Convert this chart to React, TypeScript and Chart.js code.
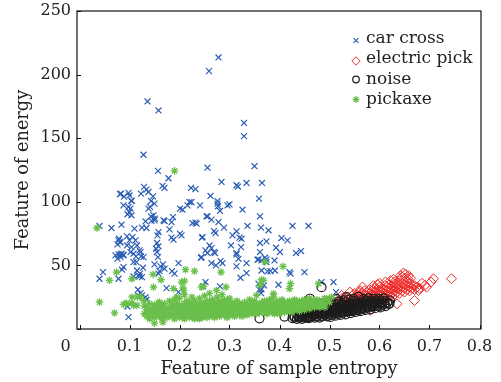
import React, { useEffect, useRef } from 'react';
import { Chart, registerables } from 'chart.js';
import { drawPoint } from 'chart.js/helpers';

Chart.register(...registerables);

const xTicks = [0, 0.1, 0.2, 0.3, 0.4, 0.5, 0.6, 0.7, 0.8];
const yTicks = [0, 50, 100, 150, 200, 250];
const seriesNames = ['car cross', 'electric pick', 'noise', 'pickaxe'];
const xTitle = 'Feature of sample entropy';
const yTitle = 'Feature of energy';

const carCross: number[][] = [
  [0.278,213.5],[0.259,202.7],[0.136,178.9],[0.158,171.8],[0.329,162],[0.329,151.6],[0.128,137],[0.35,128],
  [0.157,124.3],[0.256,126.8],[0.284,115.6],[0.314,113],[0.317,112],[0.334,114.8],[0.365,114.8],[0.178,118.5],
  [0.129,111.7],[0.134,109.6],[0.138,107.7],[0.166,112.5],[0.17,111],[0.223,110.9],[0.232,110],[0.083,106.4],
  [0.123,106.4],[0.147,104.3],[0.262,104.6],[0.104,100.6],[0.098,95.9],[0.1,92],[0.143,100.6],[0.15,98.6],
  [0.22,99.8],[0.216,97.2],[0.206,93.8],[0.143,88.6],[0.15,85.4],[0.132,84.6],[0.17,84.9],[0.187,88],
  [0.232,83.6],[0.254,88.6],[0.04,81],[0.064,79.4],[0.084,82],[0.11,78.9],[0.125,79.7],[0.134,79.4],
  [0.158,76.2],[0.156,73.6],[0.18,78.3],[0.184,71.8],[0.188,70.2],[0.204,73.6],[0.245,71.8],[0.095,72.8],
  [0.1,69.7],[0.078,69.7],[0.082,68.1],[0.112,69.7],[0.115,65.7],[0.104,64.4],[0.095,65.7],[0.155,67.6],
  [0.158,65],[0.153,63.1],[0.12,61.8],[0.102,60.5],[0.082,58.4],[0.088,58.4],[0.252,61.8],
  [0.276,100.6],[0.276,98.6],[0.277,96.5],[0.281,92.8],[0.296,97.2],[0.3,98],[0.326,93.8],[0.359,102.5],
  [0.361,88.6],[0.256,88.6],[0.264,86],[0.278,84.1],[0.289,79.7],[0.336,81],[0.363,79.7],[0.378,77.6],
  [0.426,81],[0.458,81],[0.269,77],[0.272,75.4],[0.306,73.6],[0.314,76.8],[0.32,71.8],[0.324,71],
  [0.303,65.7],[0.323,64.4],[0.361,67.6],[0.374,68.9],[0.404,71.5],[0.416,69.7],[0.393,63.9],[0.401,60.5],
  [0.26,65.7],[0.264,63.6],[0.269,60.5],[0.314,59.7],[0.361,60.5],[0.433,59.7],[0.443,61.3],
  [0.358,54.7],[0.364,53.9],[0.374,54.7],[0.39,53.9],[0.364,46],[0.376,45.3],[0.382,45.5],[0.391,46],
  [0.42,44.7],[0.422,43.5],[0.45,44.7],[0.358,35.6],[0.364,31.1],[0.369,34.3],[0.398,34.8],[0.484,36.9],
  [0.508,36.9],[0.513,29],[0.256,59.7],[0.271,59.7],[0.314,58.7],[0.318,55.2],[0.264,51.8],[0.273,50],
  [0.282,53.4],[0.286,51.8],[0.314,49.2],[0.334,51.8],[0.334,43.9],[0.322,40.3],[0.356,54.5],[0.371,56],
  [0.374,52.6],[0.363,28.2],[0.36,30.9],[0.244,56.5],[0.281,33.5],
  [0.072,57.9],[0.078,58.7],[0.084,59.2],[0.088,57.9],[0.076,55.3],[0.082,56.5],[0.108,59.2],[0.113,57.1],
  [0.123,57.1],[0.128,56.5],[0.122,60.5],[0.108,52.6],[0.114,52.6],[0.157,56.5],[0.155,60.5],[0.15,50.8],
  [0.162,49.2],[0.167,50.8],[0.17,47.4],[0.158,43.5],[0.16,45.5],[0.185,45.5],[0.19,43.5],[0.198,51.8],
  [0.088,48.7],[0.085,46.6],[0.047,44.7],[0.04,39.5],[0.078,39.5],[0.115,46],[0.121,43.5],[0.12,41.3],
  [0.125,40.8],[0.127,48.2],[0.108,41.3],[0.118,42.1],[0.174,32.1],[0.117,30.9],[0.122,28.2],[0.117,26.4],
  [0.125,26.4],[0.132,25],[0.134,23],[0.096,17.7],[0.098,9.3],[0.198,29],[0.243,56],[0.247,33.5],[0.252,36.9],
  [0.1,105],[0.104,101],[0.088,97.2],[0.102,94.6],[0.096,90.2],[0.104,89.4],[0.081,68.4],[0.079,71],
  [0.076,66.5],[0.106,72.3],[0.081,106],[0.089,104],[0.098,107],[0.138,94.6],[0.141,96],[0.144,85],
  [0.148,89.4],[0.151,86.8],[0.168,85.4],[0.184,84],[0.201,75],[0.226,83.3],[0.234,82.8],[0.246,72.3],
  [0.201,94.6],[0.224,99.8],[0.241,97.2]
];

const electricPick: number[][] = [
  [0.744,39.5],[0.708,39.5],[0.703,36.9],[0.691,34.3],[0.694,32.9],[0.658,42],[0.656,39.5],[0.67,22.4],
  [0.678,30.3],[0.6,36],[0.631,35.6],[0.638,32.9],[0.541,29],[0.561,30.3],[0.635,19.8],[0.601,19.8],
  [0.581,14.6],[0.524,26.4],
  [0.49,16],[0.495,18],[0.495,14],[0.5,17],[0.5,20],[0.505,15],[0.505,19],[0.51,18],[0.51,21],[0.51,16],
  [0.515,20],[0.515,17],[0.52,19],[0.52,22],[0.52,16],[0.525,21],[0.525,18],[0.525,24],[0.53,20],[0.53,23],
  [0.53,17],[0.535,22],[0.535,19],[0.535,25],[0.54,21],[0.54,24],[0.54,18],[0.545,23],[0.545,20],[0.545,26],
  [0.55,22],[0.55,25],[0.55,19],[0.55,28],[0.555,24],[0.555,21],[0.555,27],[0.56,23],[0.56,26],[0.56,20],
  [0.56,29],[0.565,25],[0.565,22],[0.565,28],[0.57,24],[0.57,27],[0.57,21],[0.57,30],[0.575,26],[0.575,23],
  [0.575,29],[0.575,19],[0.58,25],[0.58,28],[0.58,22],[0.58,31],[0.585,27],[0.585,24],[0.585,30],[0.585,20],
  [0.59,26],[0.59,29],[0.59,23],[0.59,32],[0.595,28],[0.595,25],[0.595,31],[0.595,21],[0.6,27],[0.6,30],
  [0.6,24],[0.6,33],[0.6,22],[0.605,29],[0.605,26],[0.605,32],[0.605,23],[0.61,28],[0.61,31],[0.61,25],
  [0.61,34],[0.615,30],[0.615,27],[0.615,33],[0.615,24],[0.62,29],[0.62,32],[0.62,26],[0.62,35],[0.625,31],
  [0.625,28],[0.625,34],[0.625,25],[0.63,30],[0.63,33],[0.63,27],[0.63,37],[0.635,32],[0.635,29],[0.635,35],
  [0.64,31],[0.64,34],[0.64,28],[0.64,38],[0.645,33],[0.645,30],[0.645,36],[0.645,41],[0.65,32],[0.65,35],
  [0.65,29],[0.65,40],[0.652,43],[0.655,34],[0.655,31],[0.655,37],[0.66,33],[0.66,36],[0.66,30],[0.662,40],
  [0.665,35],[0.665,32],[0.67,34],[0.67,31],[0.675,33],[0.68,32],[0.685,36],
  [0.566,33],[0.588,34],[0.612,37],[0.622,38],[0.642,42],[0.648,44],[0.628,39],[0.596,35]
];

const noise: number[][] = [
  [0.36,8.4],[0.41,9.8],[0.461,23.8],[0.484,32.9],[0.558,25.3],[0.588,23.8],[0.621,22.4],[0.534,25],[0.618,19.8],
  [0.43,9],[0.43,10],[0.435,8],[0.435,11],[0.44,9],[0.44,10],[0.44,12],[0.445,8],[0.445,11],[0.445,10],
  [0.45,9],[0.45,12],[0.45,10],[0.455,11],[0.455,9],[0.455,13],[0.46,10],[0.46,12],[0.46,9],[0.465,11],
  [0.465,13],[0.465,10],[0.47,9],[0.47,12],[0.47,14],[0.47,11],[0.475,10],[0.475,13],[0.475,12],[0.48,11],
  [0.48,14],[0.48,9],[0.48,12],[0.485,10],[0.485,13],[0.485,15],[0.485,12],[0.49,11],[0.49,14],[0.49,12],
  [0.49,16],[0.495,10],[0.495,13],[0.495,15],[0.495,12],[0.5,12],[0.5,14],[0.5,11],[0.5,16],[0.5,18],
  [0.505,13],[0.505,15],[0.505,11],[0.505,17],[0.51,12],[0.51,14],[0.51,16],[0.51,19],[0.51,13],[0.515,13],
  [0.515,15],[0.515,17],[0.515,12],[0.52,14],[0.52,16],[0.52,12],[0.52,18],[0.52,20],[0.525,13],[0.525,15],
  [0.525,17],[0.525,19],[0.53,14],[0.53,16],[0.53,18],[0.53,13],[0.53,21],[0.535,15],[0.535,17],[0.535,14],
  [0.535,19],[0.54,14],[0.54,16],[0.54,18],[0.54,20],[0.54,15],[0.545,15],[0.545,17],[0.545,19],[0.545,14],
  [0.55,16],[0.55,18],[0.55,15],[0.55,20],[0.55,22],[0.555,15],[0.555,17],[0.555,19],[0.555,21],[0.56,16],
  [0.56,18],[0.56,20],[0.56,15],[0.565,17],[0.565,19],[0.565,21],[0.565,16],[0.57,16],[0.57,18],[0.57,20],
  [0.57,22],[0.575,17],[0.575,19],[0.575,21],[0.58,18],[0.58,20],[0.58,17],[0.58,22],[0.585,19],[0.585,21],
  [0.585,18],[0.59,18],[0.59,20],[0.59,22],[0.595,19],[0.595,21],[0.6,20],[0.6,18],[0.6,22],[0.605,19],
  [0.605,21],[0.61,20],[0.61,22],[0.615,21],[0.62,20],
  [0.452,13.5],[0.468,15],[0.478,16],[0.488,17.5],[0.498,19],[0.508,20],[0.518,21.5],[0.528,22.5],
  [0.538,23],[0.548,23.5],[0.442,13],[0.462,14.5],[0.472,16.5],[0.492,18],[0.502,9.5],[0.512,10.5],
  [0.522,11],[0.532,11.5],[0.542,12.5],[0.552,13.5],[0.562,14],[0.572,15],[0.582,15.5],[0.592,16.5],
  [0.602,17],[0.612,18],[0.568,23.5],[0.578,24],[0.598,23.5],[0.608,24],[0.482,20],[0.496,21.5],
  [0.514,23.5],[0.426,8.5],[0.438,9.5],[0.458,8.5]
];

const pickaxe: number[][] = [
  [0.19,124.3],[0.035,79.4],[0.06,38.2],[0.074,44.7],[0.105,39.5],[0.147,42.9],[0.163,38.7],[0.212,46.6],
  [0.23,45.5],[0.21,37.6],[0.207,32.4],[0.04,21.1],[0.07,12.6],[0.094,20.3],[0.088,19.3],[0.105,20.3],
  [0.105,25],[0.116,25],[0.115,18.5],[0.134,17.2],[0.136,14.6],[0.15,4.6],[0.167,5.4],[0.158,20.3],
  [0.148,32.9],[0.244,32.9],[0.283,44.7],[0.293,32.9],[0.188,31.7],[0.208,30.3],[0.204,36.9],[0.194,25],
  [0.248,33.5],[0.274,30.3],[0.371,52.8],[0.407,49.2],[0.364,38.7],[0.361,34.3],[0.422,35.6],[0.42,31.7],
  [0.478,35.6],[0.388,27.7],[0.354,26.4],[0.491,17.2],[0.368,38.2],[0.388,25],[0.481,17.2],[0.504,25],
  [0.494,23.8],[0.093,19.8],[0.108,18.5],[0.128,22.4],[0.122,25.6],
  [0.13,12],[0.13,18],[0.135,10],[0.135,15],[0.14,13],[0.14,20],[0.14,8],[0.145,11],[0.145,16],[0.15,14],
  [0.15,9],[0.15,19],[0.155,12],[0.155,17],[0.16,10],[0.16,15],[0.16,21],[0.165,13],[0.165,8],[0.165,18],
  [0.17,11],[0.17,16],[0.17,20],[0.175,14],[0.175,9],[0.18,12],[0.18,17],[0.18,22],[0.185,10],[0.185,15],
  [0.185,19],[0.19,13],[0.19,8],[0.19,18],[0.19,23],[0.195,11],[0.195,16],[0.195,20],[0.2,14],[0.2,9],
  [0.2,19],[0.2,24],[0.205,12],[0.205,17],[0.205,10],[0.21,15],[0.21,8],[0.21,20],[0.21,27],[0.215,13],
  [0.215,18],[0.215,11],[0.215,22],[0.22,16],[0.22,9],[0.22,21],[0.22,12],[0.225,14],[0.225,19],[0.225,10],
  [0.225,25],[0.23,12],[0.23,17],[0.23,8],[0.23,22],[0.23,15],[0.235,10],[0.235,15],[0.235,20],[0.235,13],
  [0.24,18],[0.24,11],[0.24,24],[0.24,14],[0.24,8],[0.245,16],[0.245,12],[0.245,21],[0.245,9],[0.25,14],
  [0.25,19],[0.25,10],[0.25,26],[0.25,17],[0.255,12],[0.255,17],[0.255,22],[0.255,9],[0.255,15],[0.26,15],
  [0.26,20],[0.26,11],[0.26,28],[0.26,13],[0.265,13],[0.265,18],[0.265,10],[0.265,23],[0.265,16],[0.27,16],
  [0.27,21],[0.27,12],[0.27,9],[0.27,19],[0.275,14],[0.275,19],[0.275,11],[0.275,25],[0.275,17],[0.28,12],
  [0.28,17],[0.28,22],[0.28,10],[0.28,15],[0.285,15],[0.285,20],[0.285,13],[0.285,27],[0.29,13],[0.29,18],
  [0.29,11],[0.29,23],[0.295,16],[0.295,21],[0.295,12],[0.295,9],[0.3,14],[0.3,19],[0.3,11],[0.3,24],
  [0.305,12],[0.305,17],[0.305,21],[0.31,15],[0.31,10],[0.31,19],[0.315,13],[0.315,18],[0.315,22],[0.32,11],
  [0.32,16],[0.32,20],[0.325,14],[0.325,18],[0.325,10],[0.33,12],[0.33,17],[0.33,21],[0.335,15],[0.335,11],
  [0.335,19],[0.34,13],[0.34,18],[0.34,23],[0.345,16],[0.345,12],[0.345,20],[0.35,14],[0.35,18],[0.35,22],
  [0.355,12],[0.355,17],[0.355,20],[0.36,15],[0.36,19],[0.36,13],[0.365,17],[0.365,21],[0.365,14],[0.37,13],
  [0.37,18],[0.37,22],[0.375,16],[0.375,20],[0.375,12],[0.38,14],[0.38,19],[0.38,23],[0.385,17],[0.385,13],
  [0.385,21],[0.39,15],[0.39,19],[0.39,12],[0.395,18],[0.395,14],[0.395,22],[0.4,16],[0.4,12],[0.4,20],
  [0.405,14],[0.405,19],[0.405,23],[0.41,17],[0.41,13],[0.41,21],[0.415,15],[0.415,20],[0.42,18],[0.42,14],
  [0.42,22],[0.425,16],[0.425,20],[0.425,13],[0.43,18],[0.43,15],[0.43,23],[0.435,16],[0.435,21],[0.44,19],
  [0.44,14],[0.44,22],[0.445,17],[0.445,21],[0.45,15],[0.45,19],[0.45,23],[0.455,18],[0.455,21],[0.46,16],
  [0.46,20],[0.46,24],[0.465,19],[0.465,22],[0.47,17],[0.47,21],[0.475,20],[0.475,23],[0.48,18],[0.48,22],
  [0.485,21],[0.485,19],[0.49,20],[0.49,24],[0.5,21]
];

const FONT = '"DejaVu Serif", "Liberation Serif", serif';
const TEXT = '#222222';

const styles = [
  { color: '#2a5cb4', pointStyle: 'crossRot', radius: 4.2, borderWidth: 1.2, lr: 3.4 },
  { color: '#ee2a2a', pointStyle: 'rectRot', radius: 5, borderWidth: 1, lr: 4.2 },
  { color: '#1c1c1c', pointStyle: 'circle', radius: 4.5, borderWidth: 1.2, lr: 3.3 },
  { color: '#6abf4b', pointStyle: 'star', radius: 3.8, borderWidth: 1.3, lr: 3.4 },
];
const seriesData = [carCross, electricPick, noise, pickaxe];

const legendRows = [
  { markerY: 40.5, baseline: 42.5 },
  { markerY: 61, baseline: 63 },
  { markerY: 79.5, baseline: 83.5 },
  { markerY: 99.5, baseline: 104 },
];

const framePlugin = {
  id: 'frame',
  afterDraw(chart: any) {
    const { ctx, chartArea: a, scales } = chart;
    ctx.save();
    ctx.strokeStyle = '#111';
    ctx.lineWidth = 1.2;
    ctx.strokeRect(a.left, a.top, a.right - a.left, a.bottom - a.top);
    ctx.lineWidth = 1;
    ctx.beginPath();
    xTicks.forEach((v) => {
      const px = Math.round(scales.x.getPixelForValue(v)) + 0.5;
      ctx.moveTo(px, a.bottom);
      ctx.lineTo(px, a.bottom - 4);
    });
    yTicks.forEach((v) => {
      const py = Math.round(scales.y.getPixelForValue(v)) + 0.5;
      ctx.moveTo(a.left, py);
      ctx.lineTo(a.left + 4, py);
    });
    ctx.stroke();
    ctx.fillStyle = TEXT;
    ctx.font = `16px ${FONT}`;
    ctx.textAlign = 'center';
    ctx.textBaseline = 'middle';
    ctx.fillText('0', scales.x.getPixelForValue(0) - 14, a.bottom + 18);
    ctx.textAlign = 'left';
    ctx.textBaseline = 'alphabetic';
    ctx.font = `17px ${FONT}`;
    seriesNames.forEach((name, i) => {
      const s = styles[i];
      const r = legendRows[i];
      ctx.strokeStyle = s.color;
      ctx.fillStyle = 'rgba(0,0,0,0)';
      ctx.lineWidth = s.borderWidth;
      drawPoint(ctx, { pointStyle: s.pointStyle as any, radius: s.lr, rotation: 0, borderWidth: s.borderWidth }, 356, r.markerY);
      ctx.fillStyle = TEXT;
      ctx.fillText(name, 366, r.baseline);
    });
    ctx.restore();
  },
};

export default function App() {
  const ref = useRef<HTMLCanvasElement | null>(null);
  useEffect(() => {
    if (!ref.current) return;
    const order = [4, 3, 2, 1];
    const chart = new Chart(ref.current, {
      type: 'scatter',
      data: {
        datasets: seriesNames.map((name, i) => ({
          label: name,
          data: seriesData[i].map(([x, y]) => ({ x, y })),
          pointStyle: styles[i].pointStyle as any,
          pointRadius: styles[i].radius,
          pointBorderWidth: styles[i].borderWidth,
          borderColor: styles[i].color,
          backgroundColor: 'rgba(0,0,0,0)',
          pointHoverRadius: styles[i].radius,
          order: order[i],
        })),
      },
      options: {
        animation: false,
        responsive: false,
        events: [],
        layout: { padding: { top: 11, right: 20, left: 0, bottom: 0 } },
        plugins: { legend: { display: false }, tooltip: { enabled: false } },
        scales: {
          x: {
            type: 'linear',
            min: -0.005,
            max: 0.803,
            grid: { display: false, drawTicks: false },
            border: { display: false },
            afterBuildTicks: (s: any) => { s.ticks = xTicks.map((v) => ({ value: v })); },
            afterFit: (s: any) => { s.height = 53; s.paddingLeft = 0; s.paddingRight = 0; },
            ticks: {
              autoSkip: false,
              maxRotation: 0,
              padding: 8,
              color: TEXT,
              font: { family: FONT, size: 16 },
              callback: (v: any) => (Number(v) === 0 ? '' : Number(v).toFixed(1)),
            },
            title: {
              display: true,
              text: xTitle,
              color: TEXT,
              font: { family: FONT, size: 17.7 },
              padding: { top: 0, bottom: 1.5 },
            },
          },
          y: {
            type: 'linear',
            min: 0,
            max: 250,
            grid: { display: false, drawTicks: false },
            border: { display: false },
            afterBuildTicks: (s: any) => { s.ticks = yTicks.map((v) => ({ value: v })); },
            afterFit: (s: any) => { s.width = 77; s.paddingTop = 0; s.paddingBottom = 0; },
            ticks: {
              autoSkip: false,
              padding: 6,
              color: TEXT,
              font: { family: FONT, size: 16 },
              callback: (v: any) => (Number(v) === 0 ? '' : String(v)),
            },
            title: {
              display: true,
              text: yTitle,
              color: TEXT,
              font: { family: FONT, size: 17.7 },
              padding: { top: 13, bottom: 0 },
            },
          },
        },
      },
      plugins: [framePlugin],
    });
    return () => chart.destroy();
  }, []);
  return (
    <div style={{ position: 'absolute', left: 0, top: 0, width: 501, height: 382, background: '#fff' }}>
      <canvas ref={ref} width={501} height={382} />
    </div>
  );
}
